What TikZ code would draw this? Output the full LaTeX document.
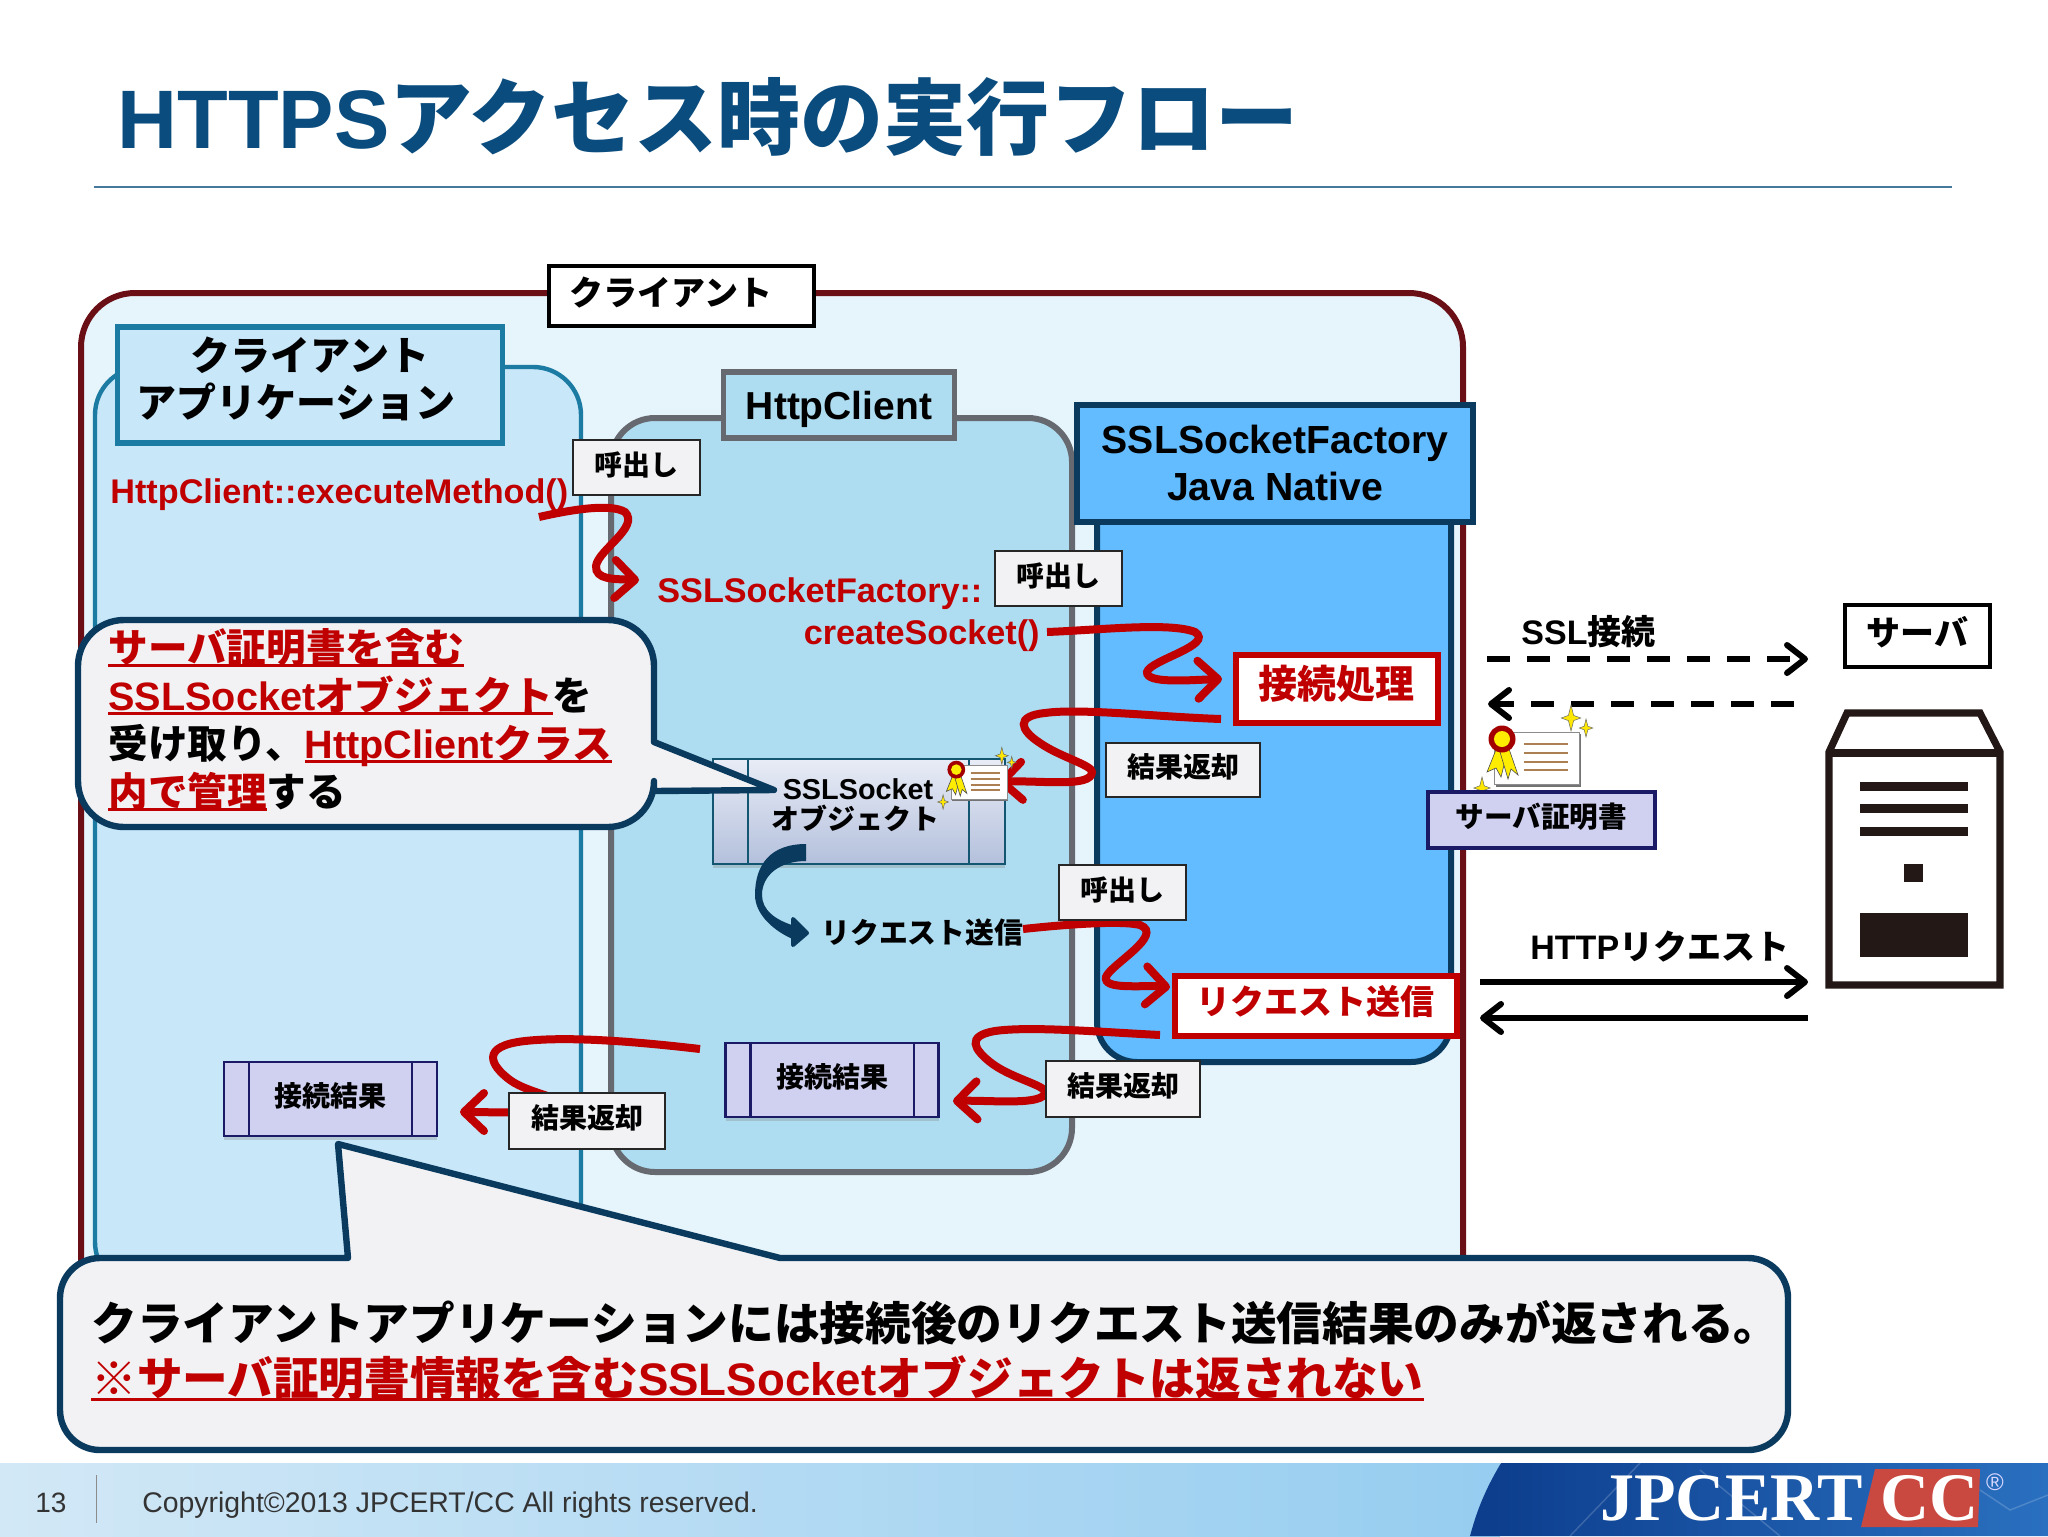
\documentclass[tikz,border=0pt]{standalone}
\usepackage{fontspec}
\usetikzlibrary{arrows.meta,shadows}
\setmainfont{Noto Sans CJK JP}
\newfontfamily\latfont{Liberation Sans}
\newfontfamily\serffont{Liberation Serif}
\newcommand{\lat}[1]{{\latfont #1}}
\definecolor{jcred}{HTML}{C00000}
\definecolor{jctitle}{HTML}{0A4C7E}
\definecolor{jcnavy}{HTML}{0A3A5E}
\definecolor{jcwine}{HTML}{6B0F16}
\definecolor{jcteal}{HTML}{1B7BA3}
\definecolor{jcgrey}{HTML}{666A70}
\definecolor{jcouter}{HTML}{E6F4FB}
\definecolor{jcapp}{HTML}{C8E7F9}
\definecolor{jchttp}{HTML}{AEDDF1}
\definecolor{jcssl}{HTML}{62BCFF}
\definecolor{jcpaper}{HTML}{F2F2F4}
\definecolor{jclav}{HTML}{D0D0F0}
\definecolor{jcink}{HTML}{231815}
\definecolor{jcedge}{HTML}{1A1A66}
\definecolor{jcobjtop}{HTML}{E8ECF6}
\definecolor{jcobjbot}{HTML}{B4C0DC}
\definecolor{jcfootl}{HTML}{D2E8F6}
\definecolor{jcfootr}{HTML}{96CDF0}
\definecolor{jcdeepl}{HTML}{0C3C8C}
\definecolor{jcdeepr}{HTML}{2A70C0}
\definecolor{jcbrick}{HTML}{C9483F}
\newcommand{\redul}[1]{\leavevmode\sbox0{\color{jcred}#1}\rlap{\usebox0}{\color{jcred}\rule[-0.12em]{\wd0}{1.6pt}}}
\newcommand{\certstar}[3]{\filldraw[fill=yellow!90!orange,draw=black!60,line width=0.25pt] (#1,#2) +(0,-#3) -- +(#3*.2,-#3*.2) -- +(#3*.75,0) -- +(#3*.2,#3*.2) -- +(0,#3) -- +(-#3*.2,#3*.2) -- +(-#3*.75,0) -- +(-#3*.2,-#3*.2) -- cycle;}
\tikzset{
  wh/.style 2 args={minimum width=#1*0.5pt,minimum height=#2*0.5pt,inner sep=0pt},
  txtsmall/.style={font=\bfseries\fontsize{14}{16}\selectfont,inner sep=0pt},
  txtmid/.style={font=\bfseries\fontsize{17}{19}\selectfont,inner sep=0pt},
  codetxt/.style={font=\bfseries\latfont\fontsize{17.1}{19}\selectfont,text=jcred,inner sep=0pt},
  callbox/.style={draw=black!85,line width=1pt,fill=jcpaper,txtsmall,text height=11.2pt,text depth=3.6pt},
  procbox/.style={draw=jcedge,line width=1.2pt,fill=jclav,txtsmall,text height=11.2pt,text depth=3.6pt,drop shadow={shadow xshift=0pt,shadow yshift=-2pt,opacity=.3}},
  stepred/.style={draw=jcred,line width=3pt,fill=white,text=jcred},
  bubble/.style={draw=jcnavy,line width=3.2pt,fill=jcpaper,line join=round},
  redarrow/.style={draw=jcred,line width=4pt,-{Straight Barb[round,length=10pt,width=19pt]}},
  netarrow/.style={draw=black,line width=3pt,-{Straight Barb[round,length=9pt,width=14pt]}},
  netdash/.style={netarrow,dash pattern=on 11.5pt off 8.5pt},
  cert/.pic={
    \fill[black!55] (2,2) rectangle (87,55);
    \filldraw[fill=white,draw=black!45,line width=0.5pt] (0,0) rectangle (85,52);
    \draw[brown!70!gray,line width=0.7pt] (30,12) -- (74,12);
    \draw[brown!70!gray,line width=0.7pt] (30,21) -- (74,21);
    \draw[brown!70!gray,line width=0.7pt] (30,30) -- (74,30);
    \draw[brown!70!gray,line width=0.7pt] (30,38) -- (74,38);
    \filldraw[fill=yellow!95!orange,draw=black!70,line width=0.3pt] (3,15) -- (-7,40) -- (2,36) -- (7,45) -- (12,25) -- cycle;
    \filldraw[fill=yellow!95!orange,draw=black!70,line width=0.3pt] (6,20) -- (14,47) -- (17,37) -- (24,43) -- (14,14) -- cycle;
    \fill[jcred!85!black] (8,7) circle (13.5);
    \fill[yellow!95!orange] (8,7) circle (8);
    \certstar{77}{-14}{13}
    \certstar{92}{-4}{9}
    \certstar{-12}{56}{11}
  }
}
\begin{document}
\begin{tikzpicture}[x=0.5pt,y=-0.5pt]
\useasboundingbox (0,0) rectangle (2048,1536);
\fill[white] (0,0) rectangle (2048,1536);
\node[font=\bfseries\fontsize{41.5}{44}\selectfont,text=jctitle,anchor=west,inner sep=0pt] (maintitle) at (117,117) {\lat{HTTPS}アクセス時の実行フロー};
\draw[jctitle!75,line width=1.2pt] (94,187) -- (1952,187);
\filldraw[draw=jcwine,line width=3pt,fill=jcouter,rounded corners=27pt] (81,293) rectangle (1463,1320);
\filldraw[draw=jcteal,line width=2.2pt,fill=jcapp,rounded corners=24pt] (95,367) rectangle (581,1290);
\node[draw=jcteal,line width=2.6pt,fill=jcapp,wh={385}{116}] (applabel) at (310,385) {};
\node[font=\bfseries\fontsize{20}{22}\selectfont,inner sep=0pt] (applineone) at (310,355) {クライアント};
\node[font=\bfseries\fontsize{20}{22}\selectfont,inner sep=0pt] (applinetwo) at (296,402) {アプリケーション};
\filldraw[draw=jcgrey,line width=3pt,fill=jchttp,rounded corners=22pt] (611,418) rectangle (1072,1172);
\node[draw=jcgrey,line width=2.6pt,fill=jchttp,wh={231}{66},font=\bfseries\latfont\fontsize{19.5}{22}\selectfont,text height=18pt,text depth=4pt] (httplabel) at (839,405) {HttpClient};
\filldraw[draw=jcnavy,line width=3pt,fill=jcssl,rounded corners=20pt] (1097,460) rectangle (1451,1062);
\node[draw=jcnavy,line width=3pt,fill=jcssl,wh={396}{117},font=\bfseries\latfont\fontsize{19.6}{23.5}\selectfont,align=center] (ssllabel) at (1275,463) {SSLSocketFactory\\Java Native};
\node[draw=black,line width=2pt,fill=white,wh={265}{60}] (clientlabel) at (681,296) {};
\node[txtmid] (clienttxt) at (671,293) {クライアント};
\node[procbox,draw=jcteal!70!black,top color=jcobjtop,bottom color=jcobjbot,wh={292}{105},align=center] (sockobj) at (859,811.5) {};
\draw[jcteal!70!black,line width=1.2pt] ([xshift=18pt]sockobj.north west) -- ([xshift=18pt]sockobj.south west);
\draw[jcteal!70!black,line width=1.2pt] ([xshift=-18.5pt]sockobj.north east) -- ([xshift=-18.5pt]sockobj.south east);
\node[font=\bfseries\latfont\fontsize{14.4}{16}\selectfont,inner sep=0pt] (socktxt) at (858,789) {SSLSocket};
\node[txtsmall] (objtxt) at (855,818) {オブジェクト};
\node[procbox,wh={213}{74}] (resultb) at (832,1080) {接続結果};
\draw[jcedge,line width=1.2pt] ([xshift=13pt]resultb.north west) -- ([xshift=13pt]resultb.south west);
\draw[jcedge,line width=1.2pt] ([xshift=-13pt]resultb.north east) -- ([xshift=-13pt]resultb.south east);
\node[procbox,wh={213}{74}] (resulta) at (330.5,1099) {接続結果};
\draw[jcedge,line width=1.2pt] ([xshift=13pt]resulta.north west) -- ([xshift=13pt]resulta.south west);
\draw[jcedge,line width=1.2pt] ([xshift=-13pt]resulta.north east) -- ([xshift=-13pt]resulta.south east);
\node[codetxt,anchor=west] (execm) at (110,495) {HttpClient::executeMethod()};
\node[codetxt,anchor=west] (factm) at (657,594) {SSLSocketFactory::};
\node[codetxt,anchor=east] (creat) at (1040,636) {createSocket()};
\node[txtsmall,anchor=west,font=\bfseries\fontsize{14.4}{16}\selectfont] (reqtxt) at (821,933) {リクエスト送信};
\node[stepred,wh={202}{68},font=\bfseries\fontsize{19.5}{22}\selectfont,text height=15pt,text depth=5pt] (connbox) at (1336.5,688.5) {接続処理};
\node[stepred,wh={282}{60},txtmid,text=jcred,text height=13.5pt,text depth=4.5pt] (reqbox) at (1315.5,1005.5) {リクエスト送信};
\coordinate (aS) at (539,517);
\coordinate (aE) at (639,580);
\coordinate (bS) at (1047,632);
\coordinate (bE) at (1222,679);
\coordinate (cS) at (1221,719);
\coordinate (cE) at (998,782);
\coordinate (dS) at (1023,929);
\coordinate (dE) at (1170,987);
\coordinate (eS) at (1160,1035);
\coordinate (eE) at (953,1101);
\coordinate (fS) at (700,1049);
\coordinate (fE) at (460,1112);
\draw[redarrow] (aS) .. controls (570,510) and (610,503) .. (625,512) .. controls (640,527) and (598,550) .. (596,566) .. controls (595,580) and (615,579) .. (aE);
\draw[redarrow] (bS) .. controls (1100,630) and (1170,622) .. (1195,632) .. controls (1215,645) and (1150,660) .. (1147,672) .. controls (1146,684) and (1190,680) .. (bE);
\draw[redarrow] (cS) .. controls (1160,717) and (1080,708) .. (1045,713) .. controls (1015,716) and (1020,730) .. (1040,743) .. controls (1060,757) and (1092,765) .. (1092,772) .. controls (1092,788) and (1040,780) .. (cE);
\draw[redarrow] (dS) .. controls (1060,925) and (1120,920) .. (1140,925) .. controls (1165,935) and (1110,965) .. (1106,977) .. controls (1103,990) and (1140,985) .. (dE);
\draw[redarrow] (eS) .. controls (1100,1032) and (1030,1026) .. (995,1031) .. controls (965,1036) and (975,1050) .. (990,1062) .. controls (1010,1078) and (1045,1085) .. (1045,1092) .. controls (1045,1106) and (990,1100) .. (eE);
\draw[redarrow] (fS) .. controls (640,1042) and (570,1036) .. (525,1041) .. controls (480,1046) and (490,1065) .. (510,1080) .. controls (530,1095) and (580,1100) .. (560,1110) .. controls (545,1114) and (490,1112) .. (fE);
\coordinate (gS) at (806,844);
\coordinate (gE) at (807,933);
\fill[jcnavy] (gS) .. controls (770,844) and (755,865) .. (755,895) .. controls (755,915) and (775,932) .. (795,940) -- (795,926) .. controls (775,920) and (762,910) .. (762,895) .. controls (762,875) and (780,861) .. (806,861) -- cycle;
\filldraw[jcnavy,line join=round,line width=2pt] (793,919) -- (gE) -- (793,945) -- cycle;
\pic at (951,765) [scale=0.66] {cert};
\node[callbox,wh={127}{55}] (callone) at (636.5,467.5) {呼出し};
\node[callbox,wh={127}{55}] (calltwo) at (1058.5,578.5) {呼出し};
\node[callbox,wh={127}{55}] (callthree) at (1122.5,892.5) {呼出し};
\node[callbox,wh={154}{54}] (retone) at (1183,770) {結果返却};
\node[callbox,wh={154}{56}] (rettwo) at (1123,1089) {結果返却};
\node[callbox,wh={156}{56}] (retthree) at (587,1121) {結果返却};
\draw[bubble,rounded corners=23pt] (654,742) -- (654,620) -- (78,620) -- (78,827) -- (654,827) [sharp corners] -- (654,791) -- (774,790) -- cycle;
\node[anchor=north west,font=\bfseries\fontsize{19.8}{24}\selectfont,align=left,inner sep=0pt] (bubbletxt) at (108,628) {\redul{サーバ証明書を含む}\\\redul{\lat{SSLSocket}オブジェクト}を\\受け取り、\redul{\lat{HttpClient}クラス}\\\redul{内で管理}する};
\draw[bubble,rounded corners=20pt] (780,1258) -- (1788,1258) -- (1788,1450) -- (60,1450) -- (60,1258) [sharp corners] -- (348,1258) -- (338,1144) -- cycle;
\node[anchor=west,font=\bfseries\fontsize{22.85}{26}\selectfont,inner sep=0pt] (noteone) at (91,1323) {クライアントアプリケーションには接続後のリクエスト送信結果のみが返される。};
\node[anchor=west,font=\bfseries\fontsize{22.8}{26}\selectfont,inner sep=0pt] (notetwo) at (91,1378) {\redul{※サーバ証明書情報を含む\lat{SSLSocket}オブジェクトは返されない}};
\node[draw=black,line width=2pt,fill=white,wh={145}{62},txtmid,text height=14pt,text depth=4.8pt] (serverlabel) at (1917.5,636) {サーバ};
\coordinate (sslA) at (1487,659);
\coordinate (sslB) at (1808,659);
\coordinate (sslC) at (1794,704);
\coordinate (sslD) at (1488,704);
\draw[netdash] (sslA) -- (sslB);
\draw[netdash] (sslC) -- (sslD);
\node[txtmid,anchor=west] (ssltxt) at (1521,632) {\lat{SSL}接続};
\coordinate (httpA) at (1480,982);
\coordinate (httpB) at (1808,982);
\coordinate (httpC) at (1808,1018);
\coordinate (httpD) at (1480,1018);
\draw[netarrow] (httpA) -- (httpB);
\draw[netarrow] (httpC) -- (httpD);
\node[txtmid,anchor=west] (httptxt) at (1530,947) {\lat{HTTP}リクエスト};
\pic at (1494,732) {cert};
\node[draw=jcedge,line width=2.2pt,fill=jclav,wh={227}{56},font=\bfseries\fontsize{14.3}{16}\selectfont,text height=11.4pt,text depth=3.7pt] (certlabel) at (1541.5,820) {サーバ証明書};
\draw[jcink,line width=3.6pt,fill=white,line join=miter] (1847,713) -- (1980,713) -- (2000,752) -- (2000,985) -- (1829,985) -- (1829,752) -- cycle;
\draw[jcink,line width=3.6pt] (1829,753) -- (2000,753);
\fill[jcink] (1860,782) rectangle (1968,791);
\fill[jcink] (1860,804) rectangle (1968,813);
\fill[jcink] (1860,827) rectangle (1968,836);
\fill[jcink] (1904,864) rectangle (1923,882);
\fill[jcink] (1860,913) rectangle (1968,957);
\shade[left color=jcfootl,right color=jcfootr] (0,1463) rectangle (1500,1536);
\shade[left color=jcdeepl,right color=jcdeepr] (1501,1463) .. controls (1485,1490) and (1477,1510) .. (1470,1536) -- (2048,1536) -- (2048,1463) -- cycle;
\draw[white,opacity=.18,line width=0.7pt] (1640,1463) -- (1570,1536);
\draw[white,opacity=.18,line width=0.7pt] (1700,1470) -- (1780,1536);
\draw[white,opacity=.18,line width=0.7pt] (1980,1490) -- (2010,1510) -- (2048,1495);
\fill[jcbrick] (1875,1469) -- (1980,1469) -- (1978,1527) -- (1861,1527) -- cycle;
\node[font=\serffont\bfseries\fontsize{34}{36}\selectfont,text=white,anchor=west,inner sep=0pt] (jpcert) at (1600,1498) {JPCERT};
\node[font=\serffont\bfseries\fontsize{34}{36}\selectfont,text=white,anchor=west,inner sep=0pt] (ccmark) at (1880,1498) {CC};
\node[font=\latfont\fontsize{12}{13}\selectfont,text=white!85!blue,inner sep=0pt] (regmark) at (1995,1482) {®};
\node[font=\latfont\fontsize{14}{15}\selectfont,text=black!80,inner sep=0pt] (pagenum) at (51,1503) {13};
\draw[black!45,line width=0.5pt] (96,1475) -- (96,1523);
\node[font=\latfont\fontsize{14.2}{15}\selectfont,text=black!80,anchor=west,inner sep=0pt] (copyr) at (142,1505) {Copyright©2013 JPCERT/CC All rights reserved.};
\end{tikzpicture}
\end{document}
